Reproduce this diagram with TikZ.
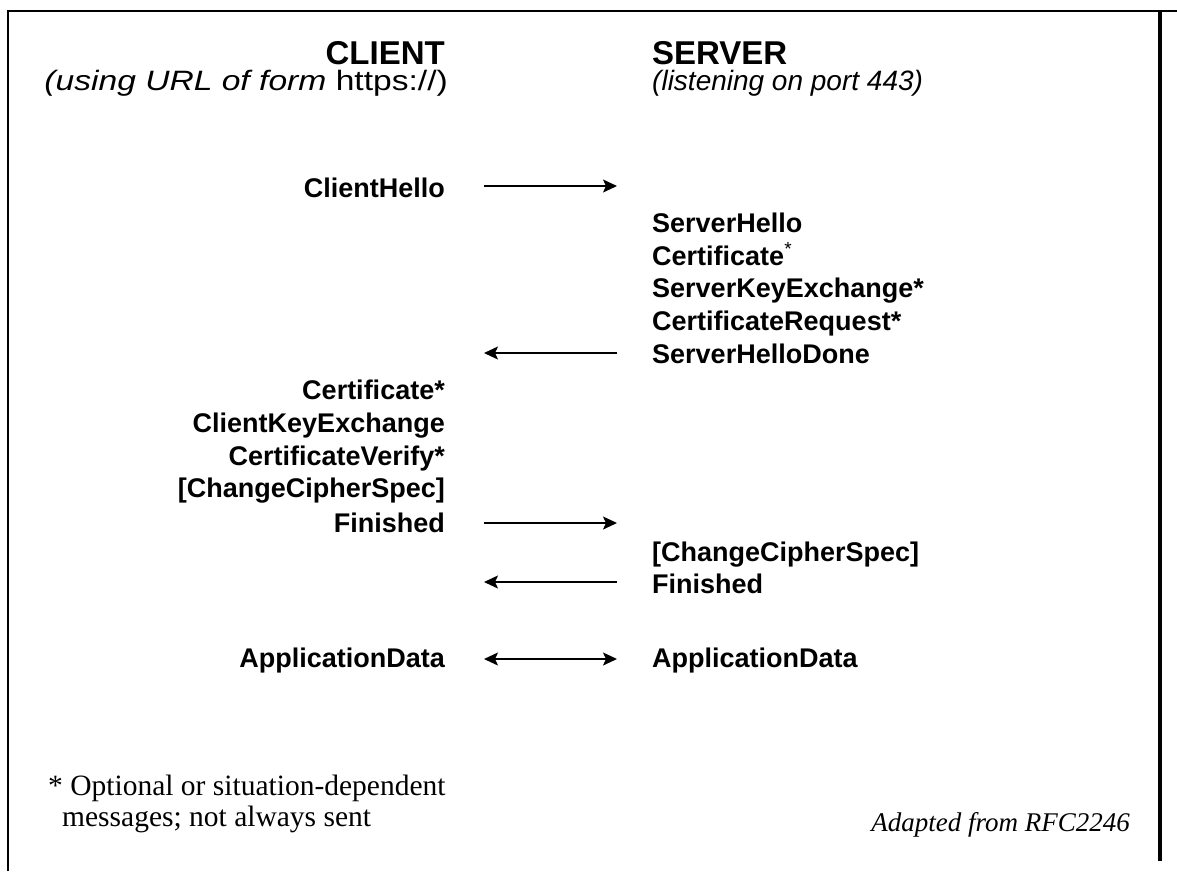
\documentclass[tikz,border=0pt]{standalone}
\usepackage{fontspec}
\usepackage{graphicx}
\setmainfont{Liberation Serif}
\newfontfamily\arialf{Liberation Sans}
\usetikzlibrary{arrows.meta}
\begin{document}
\begin{tikzpicture}[x=1pt,y=-1pt,
  title/.style={inner sep=0pt, font=\arialf\bfseries\fontsize{33}{38}\selectfont},
  subt/.style={inner sep=0pt, font=\arialf\itshape\fontsize{28}{32}\selectfont},
  msgc/.style={anchor=base east, inner sep=0pt, font=\arialf\bfseries\fontsize{27}{32}\selectfont},
  msgs/.style={anchor=base west, inner sep=0pt, font=\arialf\bfseries\fontsize{27}{32}\selectfont},
  note/.style={inner sep=0pt, font=\fontsize{29.5}{33}\selectfont},
  tipk/.tip={Stealth[length=14pt,width=13pt,inset=3pt]},
  arr/.style={line width=1.5pt, -tipk},
  darr/.style={line width=1.5pt, tipk-tipk},
  frame/.style={line width=2.5pt}]
\useasboundingbox (0,0) rectangle (1177,871);
% frame
\coordinate (fl1) at (8,11);
\coordinate (fl2) at (8,871);
\coordinate (ft2) at (1177,11);
\coordinate (fr1) at (1160,11);
\coordinate (fr2) at (1160,861);
\draw[frame] (fl2) -- (fl1) -- (ft2);
\draw[line width=3.5pt] (fr1) -- (fr2);
% titles
\node[title, anchor=base east] (client) at (445,64) {CLIENT};
\node[title, anchor=base west] (server) at (652,64) {SERVER};
\node[subt, anchor=base east] (clientsub) at (448,90) {\scalebox{1.2}[1]{(using URL of form \upshape https://)}};
\node[subt, anchor=base west] (serversub) at (652,90) {(listening on port 443)};
% messages
\node[msgc] (ch) at (445,197) {ClientHello};
\node[msgs] (sh) at (652,232) {ServerHello};
\node[msgs] (scert) at (652,265) {Certificate\textsuperscript{\mdseries*}};
\node[msgs] (ske) at (652,297) {ServerKeyExchange*};
\node[msgs] (cr) at (652,330) {CertificateRequest*};
\node[msgs] (shd) at (652,363) {ServerHelloDone};
\node[msgc] (ccert) at (445,399) {Certificate*};
\node[msgc] (cke) at (445,432) {ClientKeyExchange};
\node[msgc] (cv) at (445,465) {CertificateVerify*};
\node[msgc] (cccs) at (445,497) {[ChangeCipherSpec]};
\node[msgc] (cfin) at (445,532) {Finished};
\node[msgs] (sccs) at (652,561) {[ChangeCipherSpec]};
\node[msgs] (sfin) at (652,593) {Finished};
\node[msgc] (cad) at (445,667) {ApplicationData};
\node[msgs] (sad) at (652,667) {ApplicationData};
% arrows
\coordinate (a1l) at (484,186); \coordinate (a1r) at (617,186);
\coordinate (a2l) at (484,353); \coordinate (a2r) at (617,353);
\coordinate (a3l) at (484,523); \coordinate (a3r) at (617,523);
\coordinate (a4l) at (484,582); \coordinate (a4r) at (617,582);
\coordinate (a5l) at (484,659); \coordinate (a5r) at (617,659);
\draw[arr] (a1l) -- (a1r);
\draw[arr] (a2r) -- (a2l);
\draw[arr] (a3l) -- (a3r);
\draw[arr] (a4r) -- (a4l);
\draw[darr] (a5l) -- (a5r);
% notes
\node[note, anchor=base west] (n1) at (48,795) {* Optional or situation-dependent};
\node[note, anchor=base west] (n2) at (62,826) {messages; not always sent};
\node[note, anchor=base east, font=\itshape\fontsize{27}{31}\selectfont] (src) at (1130,831) {Adapted from RFC2246};
\end{tikzpicture}
\end{document}
